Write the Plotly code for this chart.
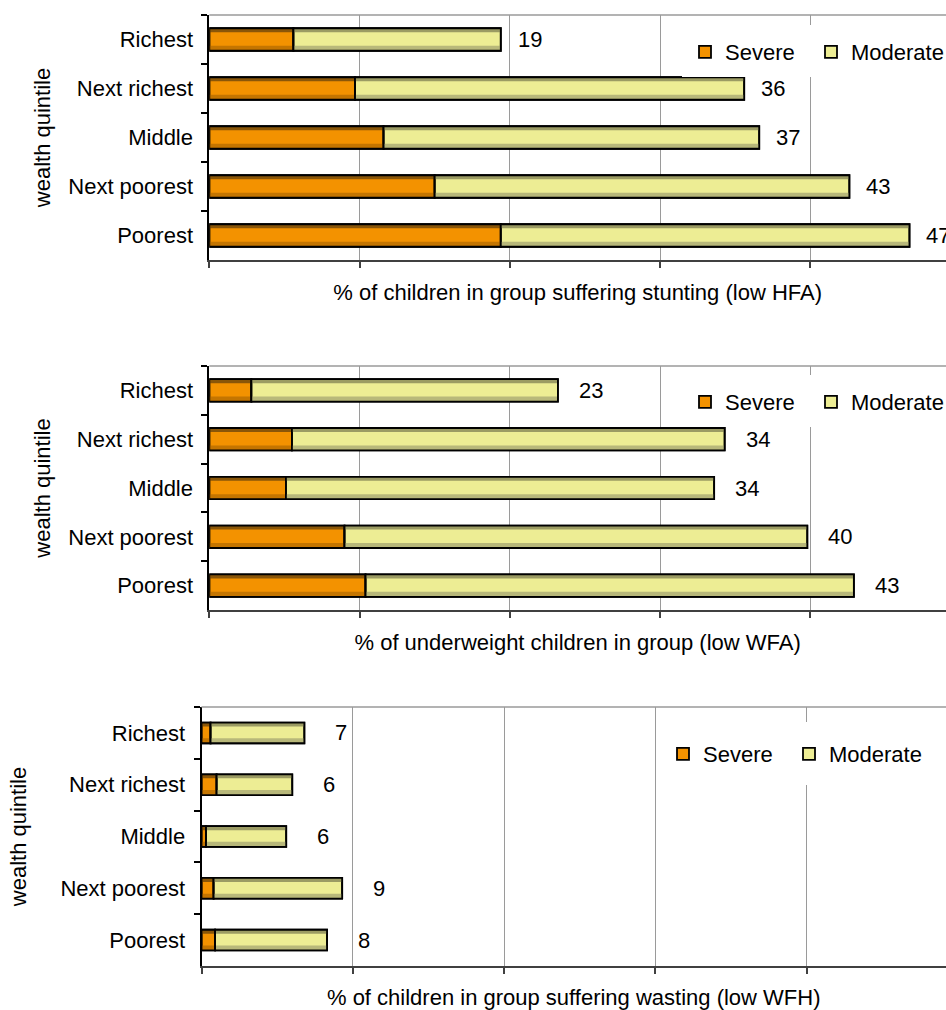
import plotly.graph_objects as go

# ---- data -------------------------------------------------------------
quintiles = ["Richest", "Next richest", "Middle", "Next poorest", "Poorest"]
series_names = ["Severe", "Moderate"]

stunting_severe = [5.6, 9.7, 11.6, 15.0, 19.4]
stunting_moderate = [13.8, 25.9, 25.0, 27.6, 27.2]

underweight_severe = [2.8, 5.5, 5.1, 9.0, 10.4]
underweight_moderate = [20.4, 28.8, 28.5, 30.8, 32.5]

wasting_severe = [0.6, 1.0, 0.3, 0.8, 0.9]
wasting_moderate = [6.2, 5.0, 5.3, 8.5, 7.4]

x_titles = [
    "% of children in group suffering stunting (low HFA)",
    "% of underweight children in group (low WFA)",
    "% of children in group suffering wasting (low WFH)",
]
y_title = "wealth quintile"
grid_ticks = [0, 10, 20, 30, 40]

# ---- styling ----------------------------------------------------------
W, H = 946, 1010
FONT = "Arial, Liberation Sans, sans-serif"
FS = 22

# shaded bar fills: main body, darker top edge, darker lower edge
STYLES = {
    "Severe": dict(main="#f39200", top="#8a5608", low="#c47500"),
    "Moderate": dict(main="#eded94", top="#9b9b63", low="#b8b87a"),
}

# panel geometry in pixels; "legx" = left edge of each legend entry,
# "legbox" = white area behind the legend (x0, x1, y0, y1)
panels = [
    dict(sev=stunting_severe, mod=stunting_moderate, left=209.3, top=15, bottom=260,
         unit=15.025, bar=0.46, shift=15, legx=(685, 811), legy=52,
         legbox=(682, 946, 25, 77), ystand=12),
    dict(sev=underweight_severe, mod=underweight_moderate, left=209.3, top=366, bottom=610,
         unit=15.025, bar=0.46, shift=19, legx=(685, 811), legy=402,
         legbox=(682, 946, 375, 427), ystand=12),
    dict(sev=wasting_severe, mod=wasting_moderate, left=201.5, top=707, bottom=966,
         unit=15.125, bar=0.40, shift=29, legx=(663, 789), legy=754,
         legbox=(660, 946, 722, 785), ystand=28),
]

fig = go.Figure()
layout = dict(
    width=W, height=H, margin=dict(l=0, r=0, t=0, b=0, autoexpand=False),
    paper_bgcolor="white", plot_bgcolor="white",
    barmode="overlay", font=dict(family=FONT, size=FS, color="#000"),
    annotations=[], shapes=[],
)

leg_no = 0
for i, p in enumerate(panels):
    n = "" if i == 0 else str(i + 1)
    xa, ya = "x" + n, "y" + n
    cat_px = (p["bottom"] - p["top"]) / len(quintiles)
    px = 1.0 / cat_px          # one pixel in category units
    w = p["bar"]
    totals = [s + m for s, m in zip(p["sev"], p["mod"])]

    for k, (name, vals, base) in enumerate([("Severe", p["sev"], [0] * len(quintiles)),
                                            ("Moderate", p["mod"], p["sev"])]):
        st = STYLES[name]
        leg_no += 1
        lg = "legend" if leg_no == 1 else f"legend{leg_no}"
        common = dict(y=quintiles, x=vals, base=base, orientation="h",
                      xaxis=xa, yaxis=ya, hoverinfo="skip")
        # body
        fig.add_trace(go.Bar(name=name, legend=lg, showlegend=True,
                             width=w, offset=-w / 2,
                             marker=dict(color=st["main"], line=dict(color="#000", width=1.8)),
                             **common))
        # dark top edge
        fig.add_trace(go.Bar(showlegend=False, width=4 * px, offset=-w / 2,
                             marker=dict(color=st["top"], line=dict(width=0)), **common))
        # darker lower edge
        fig.add_trace(go.Bar(showlegend=False, width=5 * px, offset=w / 2 - 5 * px,
                             marker=dict(color=st["low"], line=dict(width=0)), **common))
        # outline on top
        fig.add_trace(go.Bar(showlegend=False, width=w, offset=-w / 2,
                             marker=dict(color="rgba(0,0,0,0)", line=dict(color="#000", width=1.8)),
                             **common))

        layout[lg] = dict(
            orientation="h", x=p["legx"][k] / W, y=1 - p["legy"] / H,
            xanchor="left", yanchor="middle",
            bgcolor="rgba(0,0,0,0)", borderwidth=0, font=dict(family=FONT, size=FS),
        )

    # total labels
    for q, t in zip(quintiles, totals):
        layout["annotations"].append(dict(
            xref=xa, yref=ya, x=t, y=q, text=f"{t:.0f}", showarrow=False,
            xanchor="left", yanchor="middle", xshift=p["shift"],
            font=dict(family=FONT, size=FS, color="#000")))

    x0 = p["left"] / W
    y0 = 1 - p["bottom"] / H
    y1 = 1 - p["top"] / H
    layout["xaxis" + n] = dict(
        domain=[x0, 1], anchor=ya, range=[0, (W - p["left"]) / p["unit"]],
        tickvals=grid_ticks, showticklabels=False, ticks="outside", ticklen=6,
        tickcolor="#404040", tickwidth=1.5,
        showgrid=True, gridcolor="#9a9a9a", gridwidth=1, zeroline=False,
        showline=True, linecolor="#404040", linewidth=2,
        title=dict(text=x_titles[i], standoff=18, font=dict(family=FONT, size=FS)),
        fixedrange=True,
    )
    layout["yaxis" + n] = dict(
        domain=[y0, y1], anchor=xa, type="category",
        categoryorder="array", categoryarray=quintiles,
        range=[len(quintiles) - 0.5, -0.5],
        tickson="boundaries", ticks="outside", ticklen=6, tickcolor="#000", tickwidth=1.5,
        showline=True, linecolor="#000", linewidth=1.8, showgrid=False, zeroline=False,
        ticklabelstandoff=10,
        title=dict(text=y_title, standoff=p["ystand"], font=dict(family=FONT, size=FS)),
        automargin=False, fixedrange=True,
    )
    # plot-area top border
    layout["shapes"].append(dict(
        type="line", xref="paper", yref="paper",
        x0=x0, x1=1, y0=y1, y1=y1, line=dict(color="#9a9a9a", width=1.5)))
    # white panel behind the legend, hiding the gridlines there
    bx0, bx1, by0, by1 = p["legbox"]
    layout["shapes"].append(dict(
        type="rect", xref="paper", yref="paper", layer="above",
        x0=bx0 / W, x1=bx1 / W, y0=1 - by1 / H, y1=1 - by0 / H,
        fillcolor="white", line=dict(width=0)))

fig.update_layout(**layout)
fig.write_html("out.html")
